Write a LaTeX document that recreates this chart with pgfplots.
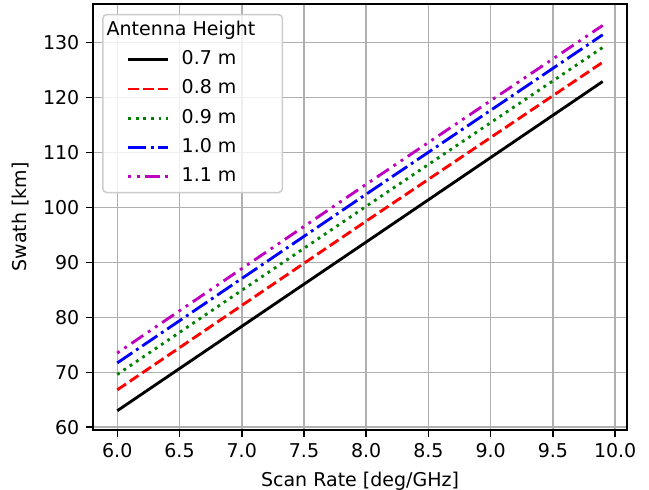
\documentclass[border=0pt]{standalone}
\usepackage{fontspec}
\setmainfont{DejaVu Sans}
\usepackage{pgfplots}
\pgfplotsset{compat=1.18}

\definecolor{mplgreen}{rgb}{0,0.5,0}
\definecolor{mplmag}{rgb}{0.75,0,0.75}
\definecolor{gridgray}{HTML}{B0B0B0}
\definecolor{framegray}{HTML}{CCCCCC}

\begin{document}
\begin{tikzpicture}[font=\fontsize{9.5}{11}\selectfont]
\begin{axis}[
  scale only axis,
  width=267pt, height=213pt,
  xmin=5.805, xmax=10.095,
  ymin=59.5, ymax=137,
  xtick={6,6.5,...,10},
  ytick={60,70,...,130},
  xticklabel style={/pgf/number format/.cd,fixed,fixed zerofill,precision=1},
  /pgf/number format/assume math mode=true,
  xlabel={Scan Rate [deg/GHz]},
  ylabel={Swath [km]},
  grid=major,
  major grid style={line width=0.76pt, draw=gridgray},
  axis line style={line width=0.76pt},
  tick align=outside,
  major tick length=3.3pt,
  tick style={black, line width=0.76pt},
  xtick pos=bottom, ytick pos=left,
  legend cell align=left,
  legend style={at={(0.017,0.977)}, anchor=north west, draw=framegray,
    line width=0.76pt, rounded corners=2pt,
    fill=white, fill opacity=0.8, text opacity=1, draw opacity=1,
    row sep=2.6pt, column sep=4.5pt, inner xsep=12pt, inner ysep=2pt,
    nodes={inner sep=1.5pt, text height=7pt, text depth=2pt},
    font=\fontsize{9.5}{11}\selectfont},
  legend image code/.code={\draw[#1] (0pt,0pt) -- (20pt,0pt);},
]
\addlegendimage{empty legend}
\addlegendentry{\hspace{-37.5pt}Antenna Height\hspace{-12pt}}

\addplot[black, line width=1.43pt] coordinates {(6.0,63.0) (8.0,93.7) (9.9,122.9)};
\addlegendentry{0.7 m}
\addplot[red, line width=1.43pt, dash pattern=on 5.27pt off 2.28pt] coordinates {(6.0,66.8) (8.0,97.5) (9.9,126.4)};
\addlegendentry{0.8 m}
\addplot[mplgreen, line width=1.43pt, dash pattern=on 1.43pt off 2.35pt] coordinates {(6.0,69.6) (8.0,100.2) (9.9,129.1)};
\addlegendentry{0.9 m}
\addplot[blue, line width=1.43pt, dash pattern=on 9.1pt off 2.28pt on 1.43pt off 2.28pt] coordinates {(6.0,71.7) (8.0,102.4) (9.9,131.4)};
\addlegendentry{1.0 m}
\addplot[mplmag, line width=1.43pt, dash pattern=on 1.43pt off 2.85pt on 1.43pt off 2.85pt on 7.13pt off 2.85pt] coordinates {(6.0,73.5) (8.0,104.2) (9.9,133.1)};
\addlegendentry{1.1 m}
\end{axis}
\pgfresetboundingbox
\path (current axis.south west) ++(-46.5pt,-30pt) rectangle ++(324.5pt,245pt);
\end{tikzpicture}
\end{document}
